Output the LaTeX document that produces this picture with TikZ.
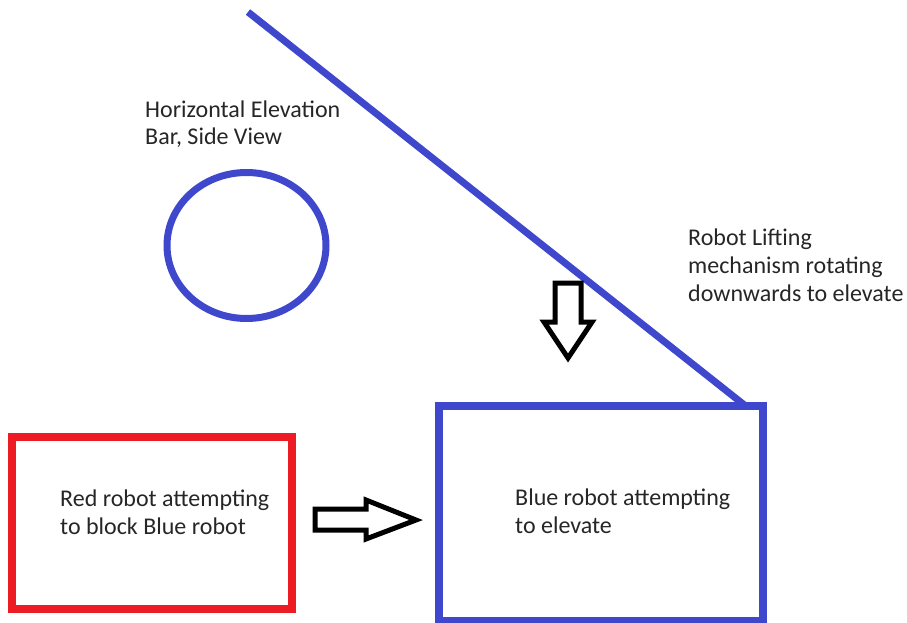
\documentclass[tikz,border=0pt]{standalone}
\usepackage{fontspec}
\setmainfont{Carlito}
\definecolor{pblue}{RGB}{63,72,204}
\definecolor{pred}{RGB}{237,28,36}
\begin{document}
\begin{tikzpicture}[x=1pt,y=-1pt,
  lbl/.style={anchor=base west,inner sep=0pt,align=left,font=\fontsize{24}{28}\selectfont,text=black!85},
  robotbox/.style={line width=8pt,anchor=north west,inner sep=0pt,outer sep=0pt},
  fatarrow/.style={draw=black,line width=5pt,line join=miter,fill=white}]
\useasboundingbox (0,0) rectangle (907,623);
% bar, side view
\draw[draw=pblue,line width=7pt] (246.5,245.5) ellipse [x radius=79.5,y radius=73];
\node[lbl] (bartxt) at (145,145) {Horizontal Elevation\\Bar, Side View};
% blue robot
\node[robotbox,draw=pblue,minimum width=324pt,minimum height=215pt] (blue) at (439,405.5) {};
\node[lbl] (bluetxt) at (515,533) {Blue robot attempting\\to elevate};
% red robot
\node[robotbox,draw=pred,minimum width=279.5pt,minimum height=171.5pt] (red) at (12,437) {};
\node[lbl] (redtxt) at (60,534) {Red robot attempting\\to block Blue robot};
% lifting mechanism
\coordinate (armtop) at (248,12);
\draw[draw=pblue,line width=7pt] (armtop) -- ([xshift=-18pt]blue.north east);
\node[lbl] (armtxt) at (688,301) {Robot Lifting\\mechanism rotating\\downwards to elevate};
% down arrow
\draw[fatarrow] (555,283) -- (581,283) -- (581,322) -- (592,322) -- (568,358) -- (544,322) -- (555,322) -- cycle;
% right arrow
\draw[fatarrow] (315,509) -- (366,509) -- (366,500) -- (416,520) -- (366,539) -- (366,530) -- (315,530) -- cycle;
\end{tikzpicture}
\end{document}
